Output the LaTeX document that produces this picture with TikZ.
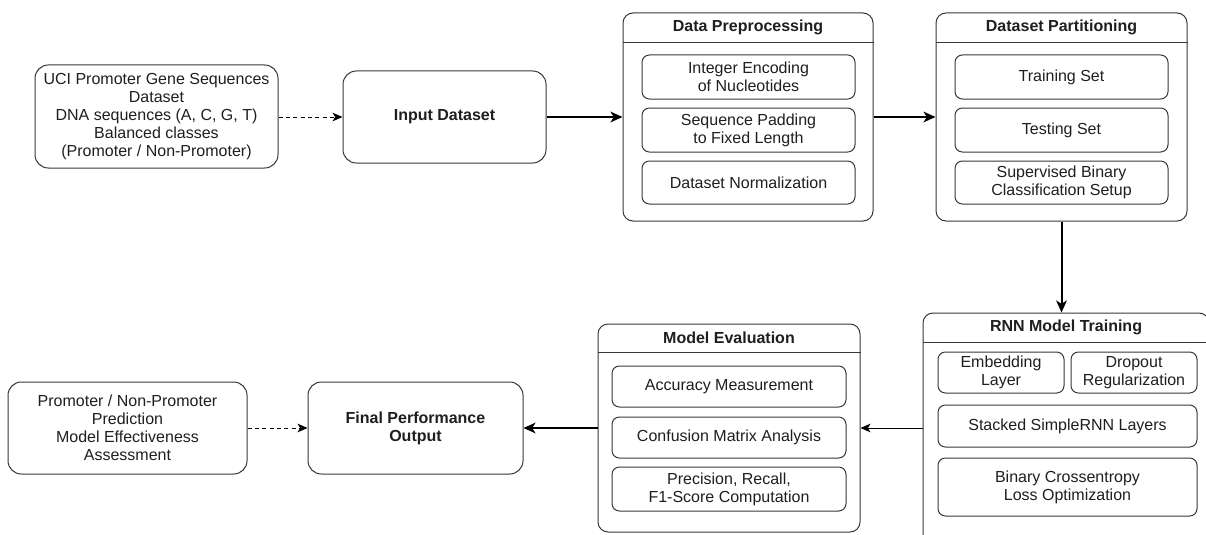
\documentclass[tikz,border=0pt]{standalone}
\usepackage{fontspec}
\setmainfont{Liberation Sans}
\usetikzlibrary{arrows.meta,calc}

\begin{document}
\begin{tikzpicture}[x=0.75pt,y=-0.75pt,
  font=\fontsize{12}{13.5}\selectfont,
  every node/.style={text=black!88, align=center, inner sep=0pt},
  wh/.style 2 args={minimum width=#1*0.75pt, minimum height=#2*0.75pt},
  border/.style={draw=black!78, line width=0.75pt},
  card/.style={rectangle, border, rounded corners=10pt},
  panel/.style={rectangle, border, rounded corners=7.5pt},
  item/.style={rectangle, border, rounded corners=5.5pt},
  heading/.style={font=\fontsize{12}{13.5}\selectfont\bfseries},
  headline/.style={border},
  flow/.style={draw=black, line width=1.5pt, -{Stealth[length=9pt,width=8pt,inset=2.5pt]}},
  thinflow/.style={draw=black, line width=0.75pt, -{Stealth[length=7.5pt,width=6.5pt,inset=2pt]}},
  hint/.style={draw=black, line width=0.75pt, dash pattern=on 3pt off 2.5pt,
    -{Stealth[length=7.5pt,width=6.5pt,inset=2pt]}}
]
\useasboundingbox (0,0) rectangle (1206,535);
\fill[white] (0,0) rectangle (1206,535);
\clip (0,0) rectangle (1206,535);

% --- top row ---
\node[card, wh={243}{103}] (uci) at (156.5,116.5)
  {UCI Promoter Gene Sequences\\Dataset\\DNA sequences (A, C, G, T)\\Balanced classes\\(Promoter / Non-Promoter)};
\node[card, wh={203}{92}, heading] (input) at (444.5,117) {Input Dataset};

% Data preprocessing panel
\node[panel, wh={250}{208}] (prep) at (748,117) {};
\draw[headline] ($(prep.north west)+(0,30)$) -- ($(prep.north east)+(0,30)$);
\node[heading] (prept) at ($(prep.north)+(0,15)$) {Data Preprocessing};
\node[item, wh={213}{44}] (enc) at (748.5,77) {Integer Encoding\\of Nucleotides};
\node[item, wh={213}{44}] (pad) at (748.5,130) {Sequence Padding\\to Fixed Length};
\node[item, wh={213}{43}] (norm) at (748.5,182.5) {Dataset Normalization};

% Dataset partitioning panel
\node[panel, wh={251}{208}] (part) at (1061.5,117) {};
\draw[headline] ($(part.north west)+(0,30)$) -- ($(part.north east)+(0,30)$);
\node[heading] (partt) at ($(part.north)+(0,15)$) {Dataset Partitioning};
\node[item, wh={213}{44}] (train) at (1061.5,77) {Training Set};
\node[item, wh={213}{44}] (test) at (1061.5,130) {Testing Set};
\node[item, wh={213}{43}] (setup) at (1061.5,182.5) {Supervised Binary\\Classification Setup};

% --- bottom row ---
% RNN model training panel
\node[panel, wh={286}{232}] (rnn) at (1066,429) {};
\draw[headline] ($(rnn.north west)+(0,30)$) -- ($(rnn.north east)+(0,30)$);
\node[heading] (rnnt) at ($(rnn.north)+(0,15)$) {RNN Model Training};
\node[item, wh={126}{41}] (emb) at (1001,372.5) {Embedding\\Layer};
\node[item, wh={126}{41}] (drop) at (1134,372.5) {Dropout\\Regularization};
\node[item, wh={259}{42}] (stack) at (1067.5,426) {Stacked SimpleRNN Layers};
\node[item, wh={259}{58}] (loss) at (1067.5,487) {Binary Crossentropy\\Loss Optimization};

% Model evaluation panel
\node[panel, wh={262}{208}] (eval) at (729,428) {};
\draw[headline] ($(eval.north west)+(0,29)$) -- ($(eval.north east)+(0,29)$);
\node[heading] (evalt) at ($(eval.north)+(0,14.5)$) {Model Evaluation};
\node[item, wh={234}{41}] (acc) at (729,386.5) {Accuracy Measurement};
\node[item, wh={234}{41}] (conf) at (729,437.5) {Confusion Matrix Analysis};
\node[item, wh={234}{44}] (prf) at (729,489) {Precision, Recall,\\F1-Score Computation};

\node[card, wh={215}{92}, heading] (final) at (415.5,428) {Final Performance\\Output};
\node[card, wh={239}{92}] (pred) at (127.5,428)
  {Promoter / Non-Promoter\\Prediction\\Model Effectiveness\\Assessment};

% --- connectors ---
\draw[hint] (uci.east |- input.west) -- (input.west);
\draw[flow] (input.east) -- (prep.west);
\draw[flow] (prep.east) -- (part.west);
\draw[flow] (part.south) -- (part.south |- rnn.north);
\draw[thinflow] (rnn.west |- eval.east) -- (eval.east);
\draw[flow] (eval.west) -- (final.east);
\draw[hint] (pred.east) -- (final.west);
\end{tikzpicture}
\end{document}
